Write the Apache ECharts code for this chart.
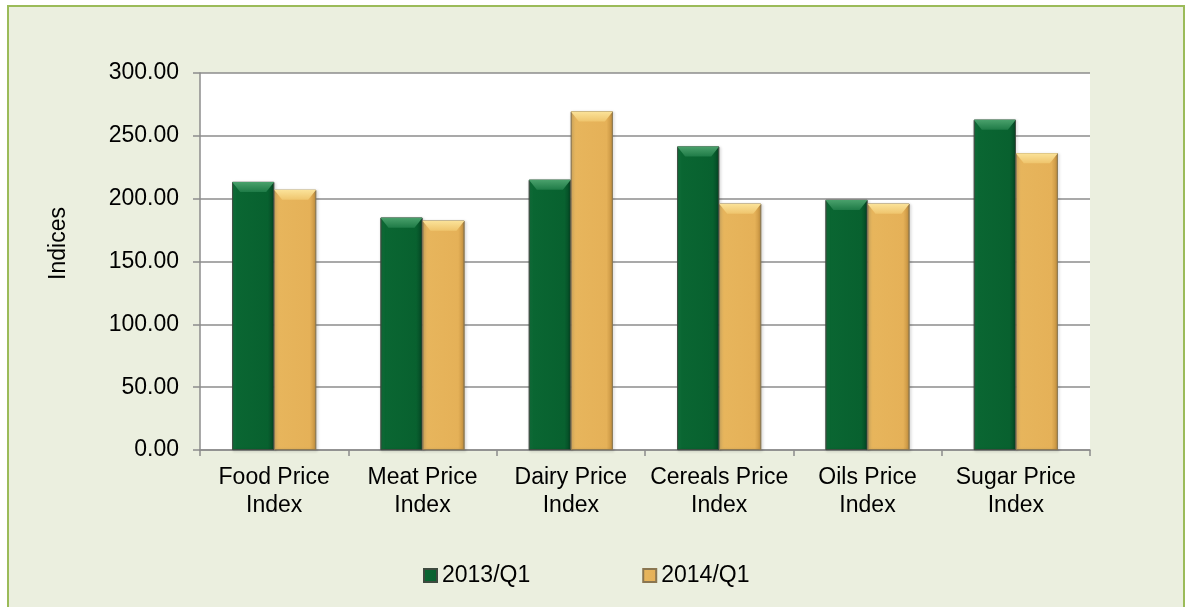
<!DOCTYPE html>
<html>
<head>
<meta charset="utf-8">
<script src="https://cdn.jsdelivr.net/npm/echarts@6/dist/echarts.min.js"></script>
<style>
  html, body { margin: 0; padding: 0; background: #fff; overflow: hidden; }
  #frame { position: absolute; left: 7px; top: 5px; width: 1174px; height: 620px;
           border: 2px solid #9bbb59; background: #ebefdf; }
  #main { position: absolute; left: 0; top: 0; width: 1185px; height: 607px; }
</style>
</head>
<body>
<div id="frame"></div>
<div id="main"></div>
<script>
// categories and values
var categories = ['Food Price\nIndex', 'Meat Price\nIndex', 'Dairy Price\nIndex',
                  'Cereals Price\nIndex', 'Oils Price\nIndex', 'Sugar Price\nIndex'];
var q1_2013 = [213.3, 184.9, 215.0, 241.5, 199.0, 262.8];
var q1_2014 = [207.0, 182.5, 269.4, 196.0, 196.0, 236.2];
var seriesNames = ['2013/Q1', '2014/Q1'];

var FONT = "'Liberation Sans', Arial, sans-serif";
var BAR_W = 42;

function bodyColor(c0, c1, c2, c3) {
	return new echarts.graphic.LinearGradient(0, 0, 1, 0, [
		{ offset: 0, color: c0 },
		{ offset: 0.12, color: c1 },
		{ offset: 0.85, color: c2 },
		{ offset: 1, color: c3 }
	]);
}

// beveled top cap drawn over each bar
function capRenderer(side, light, dark) {
	return function (params, api) {
		var top = api.coord([api.value(0), api.value(1)]);
		var x0 = side < 0 ? top[0] - BAR_W : top[0];
		var x1 = x0 + BAR_W;
		var y = top[1];
		var h = 10, inset = 8;
		return {
			type: 'polygon',
			shape: { points: [[x0, y], [x1, y], [x1 - inset, y + h], [x0 + inset, y + h]] },
			style: {
				fill: new echarts.graphic.LinearGradient(0, 0, 0, 1, [
					{ offset: 0, color: light },
					{ offset: 1, color: dark }
				])
			}
		};
	};
}

var chart = echarts.init(document.getElementById('main'));
chart.setOption({
	backgroundColor: 'transparent',
	textStyle: { fontFamily: FONT },
	grid: {
		left: 200, right: 95, top: 73, bottom: 157,
		show: true, backgroundColor: '#ffffff', borderWidth: 0
	},
	legend: {
		data: seriesNames,
		left: 418, top: 559,
		itemWidth: 13, itemHeight: 13, itemGap: 112,
		icon: 'rect',
		textStyle: { fontSize: 23, color: '#000', fontFamily: FONT }
	},
	xAxis: {
		type: 'category',
		data: categories,
		axisLine: { lineStyle: { color: '#8c8c8c', width: 1.5 } },
		axisTick: { show: true, length: 6, lineStyle: { color: '#8c8c8c', width: 1.5 } },
		axisLabel: { fontSize: 23, color: '#000', lineHeight: 28, margin: 14, interval: 0, fontFamily: FONT }
	},
	yAxis: {
		type: 'value',
		min: 0, max: 300, interval: 50,
		name: 'Indices',
		nameLocation: 'middle',
		nameGap: 130,
		nameTextStyle: { fontSize: 23, color: '#000', fontFamily: FONT, padding: [0, 0, 0, 36] },
		axisLine: { show: true, lineStyle: { color: '#8c8c8c', width: 1.5 } },
		axisTick: { show: true, length: 7, lineStyle: { color: '#8c8c8c', width: 1.5 } },
		axisLabel: {
			fontSize: 23, color: '#000', margin: 21, fontFamily: FONT,
			formatter: function (v) { return v.toFixed(2); }
		},
		splitLine: { lineStyle: { color: '#8c8c8c', width: 1.5 } }
	},
	series: [
		{
			name: seriesNames[0],
			type: 'bar',
			barWidth: BAR_W,
			barGap: '0%',
			data: q1_2013,
			itemStyle: {
				color: bodyColor('#137a40', '#0a6632', '#08612f', '#054624'),
				borderColor: '#3d4a3f', borderWidth: 0.8,
				shadowColor: 'rgba(0,0,0,0.35)', shadowBlur: 3, shadowOffsetX: 1, shadowOffsetY: 1
			}
		},
		{
			name: seriesNames[1],
			type: 'bar',
			barWidth: BAR_W,
			barGap: '0%',
			data: q1_2014,
			itemStyle: {
				color: bodyColor('#ecbf6a', '#e7b55c', '#e5b158', '#c28f3e'),
				borderColor: '#8a7650', borderWidth: 0.8,
				shadowColor: 'rgba(0,0,0,0.35)', shadowBlur: 3, shadowOffsetX: 1, shadowOffsetY: 1
			}
		},
		{
			name: 'cap2013',
			type: 'custom',
			silent: true,
			z: 5,
			renderItem: capRenderer(-1, '#4aa16c', '#1f7b47'),
			data: q1_2013.map(function (v, i) { return [i, v]; })
		},
		{
			name: 'cap2014',
			type: 'custom',
			silent: true,
			z: 5,
			renderItem: capRenderer(1, '#fbe39a', '#efc56d'),
			data: q1_2014.map(function (v, i) { return [i, v]; })
		}
	]
});
</script>
</body>
</html>
